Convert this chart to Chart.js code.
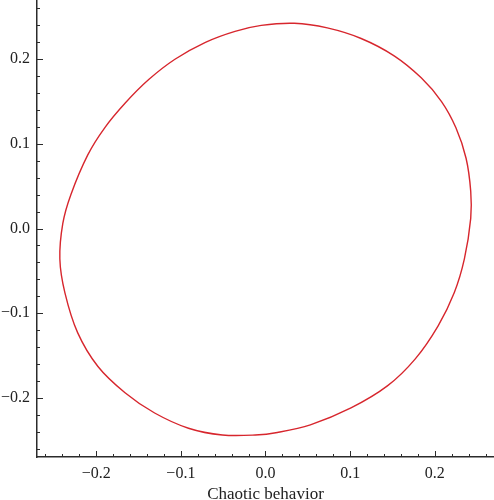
<!DOCTYPE html>
<html>
<head>
<meta charset="utf-8">
<script src="https://cdn.jsdelivr.net/npm/chart.js@4"></script>
<style>
  html, body { margin: 0; padding: 0; background: #fff; }
  #chart { display: block; }
</style>
</head>
<body>
<canvas id="chart" width="494" height="500"></canvas>
<script>
// orbit points, clockwise from the top
const orbitX = [0.034, 0.073, 0.113, 0.152, 0.184, 0.208, 0.225, 0.237, 0.2425, 0.2425, 0.235, 0.223,
    0.204, 0.177, 0.144, 0.101, 0.053, 0.014, -0.012, -0.051, -0.091, -0.131, -0.166, -0.198, -0.222,
    -0.237, -0.243, -0.2395, -0.230, -0.210, -0.190, -0.166, -0.138, -0.107, -0.071, -0.036, -0.005];
const orbitY = [0.2425, 0.237, 0.2245, 0.204, 0.178, 0.150, 0.119, 0.083, 0.044, 0.012, -0.036, -0.076,
    -0.115, -0.154, -0.186, -0.212, -0.232, -0.241, -0.244, -0.244, -0.236, -0.218, -0.194, -0.163, -0.123,
    -0.076, -0.036, 0.006, 0.040, 0.087, 0.119, 0.148, 0.176, 0.200, 0.220, 0.233, 0.240];

const xTicks = [-0.2, -0.1, 0.0, 0.1, 0.2];
const yTicks = [-0.2, -0.1, 0.0, 0.1, 0.2];
const minorStep = 0.02;
const axisMin = -0.27;
const axisMax = 0.27;
const xTitle = 'Chaotic behavior';

// closed loop: pad one point on each side so the spline has neighbours at the seam,
// then hide the two padding segments
const pts = orbitX.map((x, i) => ({ x: x, y: orbitY[i] }));
const n = pts.length;
const points = [pts[n - 1], ...pts, pts[0], pts[1]];

const lineColor = '#d7262d';
const axisColor = '#2b2b2b';
const serif = '"Liberation Serif", "DejaVu Serif", serif';

function fmt(v) {
    const s = Math.abs(v).toFixed(1);
    return v < -1e-9 ? '\u2212' + s : s;
}

// Mathematica style ticks drawn inward from the axes
const innerTicks = {
    id: 'innerTicks',
    afterDraw(chart) {
        const ctx = chart.ctx;
        const area = chart.chartArea;
        const xs = chart.scales.x;
        const ys = chart.scales.y;
        ctx.save();
        ctx.strokeStyle = axisColor;
        ctx.lineWidth = 1;
        for (let v = -0.26; v <= 0.2601; v += minorStep) {
            const major = Math.abs(v * 10 - Math.round(v * 10)) < 1e-6;
            const len = major ? 6 : 3;
            const px = Math.round(xs.getPixelForValue(v)) + 0.5;
            ctx.beginPath();
            ctx.moveTo(px, area.bottom);
            ctx.lineTo(px, area.bottom - len);
            ctx.stroke();
            const py = Math.round(ys.getPixelForValue(v)) + 0.5;
            ctx.beginPath();
            ctx.moveTo(area.left, py);
            ctx.lineTo(area.left + len, py);
            ctx.stroke();
        }
        ctx.restore();
    }
};

new Chart(document.getElementById('chart'), {
    type: 'scatter',
    data: {
        datasets: [{
            data: points,
            showLine: true,
            borderColor: lineColor,
            borderWidth: 1.4,
            pointRadius: 0,
            tension: 0.35,
            fill: false,
            segment: {
                borderColor: (c) => (c.p0DataIndex === 0 || c.p0DataIndex === n + 1) ? 'rgba(0,0,0,0)' : lineColor
            }
        }]
    },
    options: {
        responsive: false,
        animation: false,
        layout: { padding: 0 },
        plugins: {
            legend: { display: false },
            tooltip: { enabled: false }
        },
        scales: {
            x: {
                type: 'linear',
                min: axisMin,
                max: axisMax,
                afterBuildTicks: (scale) => { scale.ticks = xTicks.map(v => ({ value: v })); },
                afterFit: (scale) => {
                    scale.height = 43;
                    scale.paddingLeft = 0;
                    scale.paddingRight = 0;
                },
                grid: { display: false, drawTicks: false },
                border: { display: true, color: axisColor, width: 1.5 },
                ticks: {
                    color: '#222',
                    padding: 7,
                    maxRotation: 0,
                    font: { family: serif, size: 16 },
                    callback: (v) => fmt(v)
                },
                title: {
                    display: true,
                    text: xTitle,
                    color: '#222',
                    padding: { top: 0, bottom: -5 },
                    font: { family: serif, size: 17 }
                }
            },
            y: {
                type: 'linear',
                min: axisMin,
                max: axisMax,
                afterBuildTicks: (scale) => { scale.ticks = yTicks.map(v => ({ value: v })); },
                afterFit: (scale) => {
                    scale.width = 37;
                    scale.paddingTop = 0;
                    scale.paddingBottom = 0;
                },
                grid: { display: false, drawTicks: false },
                border: { display: true, color: axisColor, width: 1.5 },
                ticks: {
                    color: '#222',
                    padding: 7,
                    font: { family: serif, size: 16 },
                    callback: (v) => fmt(v)
                }
            }
        }
    },
    plugins: [innerTicks]
});
</script>
</body>
</html>
